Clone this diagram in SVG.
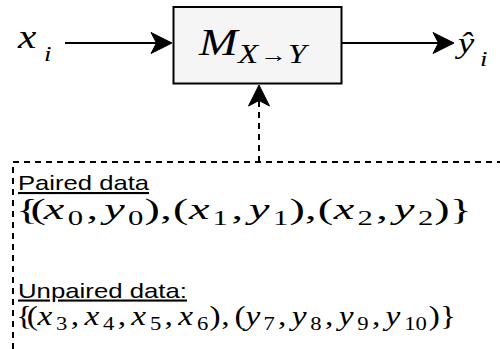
<svg xmlns="http://www.w3.org/2000/svg" width="500" height="349" viewBox="0 0 500 349">
  <style>
    .m { font-family: "Liberation Serif", "DejaVu Serif", serif; font-size: 28px; fill: #000; }
    .m1 { font-size: 30px; }
    .i { font-style: italic; }
    .s { font-size: 19px; }
    .s1 { font-size: 20px; }
    .lbl { font-family: "Liberation Sans", Arial, sans-serif; font-size: 21px; fill: #000; text-decoration: underline; }
    .solid { stroke: #000; stroke-width: 2; fill: none; }
    .dash { stroke: #000; stroke-width: 2; fill: none; stroke-dasharray: 6 5; }
    .head { fill: #000; stroke: #000; stroke-width: 1; }
  </style>
  <defs>
    <path id="arrowR" d="M0,0 L-21,-10.5 L-15.5,0 L-21,10.5 Z"/>
  </defs>

  <g id="connectors">
    <line class="solid" x1="65" y1="43" x2="160" y2="43"/>
    <use href="#arrowR" class="head" transform="translate(172,43)"/>
    <line class="solid" x1="342" y1="43" x2="442" y2="43"/>
    <use href="#arrowR" class="head" transform="translate(454,43)"/>
    <line class="dash" x1="259" y1="162" x2="259" y2="100"/>
    <use href="#arrowR" class="head" transform="translate(259,85) rotate(-90)"/>
  </g>

  <g id="input" transform="scale(1.22,1)">
    <text class="m"><tspan class="i" font-size="34" x="14.8" y="48">x</tspan><tspan class="i" font-size="22" x="36" y="61">i</tspan></text>
  </g>

  <g id="model">
    <rect x="173.5" y="7" width="168" height="76.5" fill="#f5f5f5" stroke="#000" stroke-width="2"/>
    <g transform="scale(1.22,1)">
      <text class="m"><tspan class="i" font-size="38" x="163.11" y="55">M</tspan><tspan class="i" font-size="27" x="195.08" y="63">X</tspan><tspan font-size="22" x="213.3" y="62">→</tspan><tspan class="i" font-size="27" x="236" y="63">Y</tspan></text>
    </g>
  </g>

  <g id="output" transform="scale(1.22,1)">
    <text class="m"><tspan class="i" font-size="30" x="375.41" y="53">ŷ</tspan><tspan class="i" font-size="22" x="393.44" y="66">i</tspan></text>
  </g>

  <g id="data">
    <path class="dash" d="M13,349 V162 H500"/>
    <text class="lbl" x="18" y="190" textLength="131" lengthAdjust="spacingAndGlyphs">Paired data</text>
    <text class="lbl" x="18" y="297.5" textLength="169" lengthAdjust="spacingAndGlyphs">Unpaired data:</text>
    <g transform="translate(-4.16,0) scale(1.537,1)">
      <text class="m m1"><tspan x="13.11" y="219" letter-spacing="-5">{(</tspan><tspan class="i" x="31.15" y="219">x</tspan><tspan class="s1" x="46.72" y="225">0</tspan><tspan x="59.02" y="219">,</tspan><tspan class="i" x="70.49" y="219">y</tspan><tspan class="s1" x="86.07" y="225">0</tspan><tspan x="96.72" y="219">)</tspan><tspan x="107" y="219">,</tspan><tspan x="115.2" y="219">(</tspan><tspan class="i" x="125.6" y="219">x</tspan><tspan class="s1" x="140.98" y="225">1</tspan><tspan x="153.28" y="219">,</tspan><tspan class="i" x="164.75" y="219">y</tspan><tspan class="s1" x="180.33" y="225">1</tspan><tspan x="190.98" y="219">)</tspan><tspan x="201.2" y="219">,</tspan><tspan x="209.4" y="219">(</tspan><tspan class="i" x="219.8" y="219">x</tspan><tspan class="s1" x="235.25" y="225">2</tspan><tspan x="247.54" y="219">,</tspan><tspan class="i" x="259.02" y="219">y</tspan><tspan class="s1" x="274.59" y="225">2</tspan><tspan x="285.25" y="219">)</tspan><tspan x="295.4" y="219">}</tspan></text>
    </g>
    <g transform="translate(0.35,0) scale(1.193,1)">
      <text class="m"><tspan x="13.11" y="325" letter-spacing="-4.4">{(</tspan><tspan class="i" x="31.15" y="325">x</tspan><tspan class="s" x="46.72" y="330">3</tspan><tspan x="59.02" y="325">,</tspan><tspan class="i" x="70.49" y="325">x</tspan><tspan class="s" x="86.07" y="330">4</tspan><tspan x="98.36" y="325">,</tspan><tspan class="i" x="109.84" y="325">x</tspan><tspan class="s" x="125.41" y="330">5</tspan><tspan x="137.70" y="325">,</tspan><tspan class="i" x="149.18" y="325">x</tspan><tspan class="s" x="164.75" y="330">6</tspan><tspan x="175.41" y="325">)</tspan><tspan x="185.2" y="325">,</tspan><tspan x="196.2" y="325">(</tspan><tspan class="i" x="205.6" y="325">y</tspan><tspan class="s" x="220.49" y="330">7</tspan><tspan x="232.79" y="325">,</tspan><tspan class="i" x="244.26" y="325">y</tspan><tspan class="s" x="259.84" y="330">8</tspan><tspan x="272.13" y="325">,</tspan><tspan class="i" x="283.61" y="325">y</tspan><tspan class="s" x="299.18" y="330">9</tspan><tspan x="311.48" y="325">,</tspan><tspan class="i" x="322.95" y="325">y</tspan><tspan class="s" x="338.52" y="330">10</tspan><tspan x="359.02" y="325">)</tspan><tspan x="368.5" y="325">}</tspan></text>
    </g>
  </g>
</svg>
